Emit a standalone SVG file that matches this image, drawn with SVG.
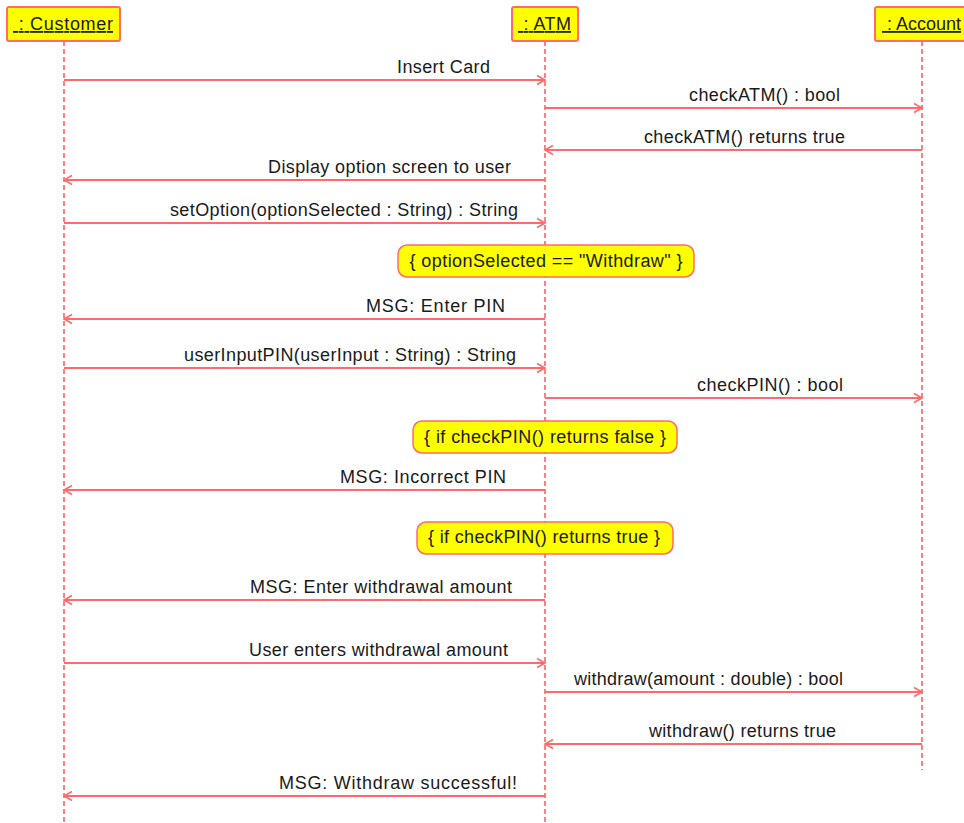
<svg xmlns="http://www.w3.org/2000/svg" width="964" height="823" viewBox="0 0 964 823">
  <defs>
    <style>
      .head { fill: #ffff00; stroke: #ff6a6a; stroke-width: 2; }
      .head-label { font-family: "Liberation Sans", Arial, sans-serif; font-size: 18px; fill: #1a1a1a; text-decoration: underline; white-space: pre; }
      .life { stroke: #ff8080; stroke-width: 2; stroke-dasharray: 5 3; fill: none; }
      .msg { stroke: #ff6a6a; stroke-width: 1.8; fill: none; }
      .msg-fwd { marker-end: url(#open-arrow); }
      .lbl { font-family: "Liberation Sans", Arial, sans-serif; font-size: 18px; fill: #1a1a1a; text-anchor: start; }
      .note { fill: #ffff00; stroke: #ff6a6a; stroke-width: 1.5; }
      .note-lbl { font-family: "Liberation Sans", Arial, sans-serif; font-size: 18px; fill: #1a1a1a; text-anchor: middle; }
    </style>
    <marker id="open-arrow" markerWidth="12" markerHeight="12" refX="10" refY="6" orient="auto" markerUnits="userSpaceOnUse">
      <path d="M2,1.5 L10,6 L2,10.5" fill="none" stroke="#ff6a6a" stroke-width="1.6"/>
    </marker>
  </defs>

  <rect width="964" height="823" fill="#ffffff"/>

  <!-- lifelines -->
  <g id="lifelines">
    <line class="life" x1="64" y1="41" x2="64" y2="823"/>
    <line class="life" x1="545" y1="41" x2="545" y2="823"/>
    <line class="life" x1="922" y1="41" x2="922" y2="770"/>
  </g>

  <!-- participants -->
  <g id="customer">
    <rect class="head" x="7" y="7" width="113" height="34" rx="2"/>
    <text class="head-label" x="13" y="30" xml:space="preserve" textLength="100"> : Customer</text>
  </g>
  <g id="atm">
    <rect class="head" x="512" y="7" width="66" height="34" rx="2"/>
    <text class="head-label" x="518" y="30" xml:space="preserve" textLength="53"> : ATM</text>
  </g>
  <g id="account">
    <rect class="head" x="875" y="7" width="94" height="34" rx="2"/>
    <text class="head-label" x="882" y="30" xml:space="preserve"> : Account</text>
  </g>

  <!-- messages -->
  <g id="connectors">
    <line class="msg msg-fwd" x1="64" y1="80" x2="545" y2="80"/>
    <text class="lbl" x="397" y="73" textLength="93">Insert Card</text>

    <line class="msg msg-fwd" x1="545" y1="108" x2="922" y2="108"/>
    <text class="lbl" x="689" y="101" textLength="151">checkATM() : bool</text>

    <line class="msg msg-fwd" x1="922" y1="150" x2="545" y2="150"/>
    <text class="lbl" x="644" y="143" textLength="201">checkATM() returns true</text>

    <line class="msg msg-fwd" x1="545" y1="180" x2="64" y2="180"/>
    <text class="lbl" x="268" y="173" textLength="243">Display option screen to user</text>

    <line class="msg msg-fwd" x1="64" y1="223" x2="545" y2="223"/>
    <text class="lbl" x="170" y="216" textLength="348">setOption(optionSelected : String) : String</text>

    <line class="msg msg-fwd" x1="545" y1="319" x2="64" y2="319"/>
    <text class="lbl" x="366" y="312" textLength="139">MSG: Enter PIN</text>

    <line class="msg msg-fwd" x1="64" y1="368" x2="545" y2="368"/>
    <text class="lbl" x="184" y="361" textLength="332">userInputPIN(userInput : String) : String</text>

    <line class="msg msg-fwd" x1="545" y1="398" x2="922" y2="398"/>
    <text class="lbl" x="697" y="391" textLength="146">checkPIN() : bool</text>

    <line class="msg msg-fwd" x1="545" y1="490" x2="64" y2="490"/>
    <text class="lbl" x="340" y="483" textLength="166">MSG: Incorrect PIN</text>

    <line class="msg msg-fwd" x1="545" y1="600" x2="64" y2="600"/>
    <text class="lbl" x="250" y="593" textLength="262">MSG: Enter withdrawal amount</text>

    <line class="msg msg-fwd" x1="64" y1="663" x2="545" y2="663"/>
    <text class="lbl" x="249" y="656" textLength="259">User enters withdrawal amount</text>

    <line class="msg msg-fwd" x1="545" y1="692" x2="922" y2="692"/>
    <text class="lbl" x="574" y="685" textLength="269">withdraw(amount : double) : bool</text>

    <line class="msg msg-fwd" x1="922" y1="744" x2="545" y2="744"/>
    <text class="lbl" x="649" y="737" textLength="187">withdraw() returns true</text>

    <line class="msg msg-fwd" x1="545" y1="796" x2="64" y2="796"/>
    <text class="lbl" x="279" y="789" textLength="238">MSG: Withdraw successful!</text>
  </g>

  <!-- guard notes -->
  <g id="note-withdraw">
    <rect class="note" x="398" y="245" width="296" height="32" rx="9"/>
    <text class="note-lbl" x="546" y="267" textLength="273">{ optionSelected == "Withdraw" }</text>
  </g>
  <g id="note-pin-false">
    <rect class="note" x="413" y="421" width="264" height="32" rx="9"/>
    <text class="note-lbl" x="545" y="443" textLength="242">{ if checkPIN() returns false }</text>
  </g>
  <g id="note-pin-true">
    <rect class="note" x="417" y="522" width="256" height="32" rx="9"/>
    <text class="note-lbl" x="544" y="543" textLength="232">{ if checkPIN() returns true }</text>
  </g>
</svg>
